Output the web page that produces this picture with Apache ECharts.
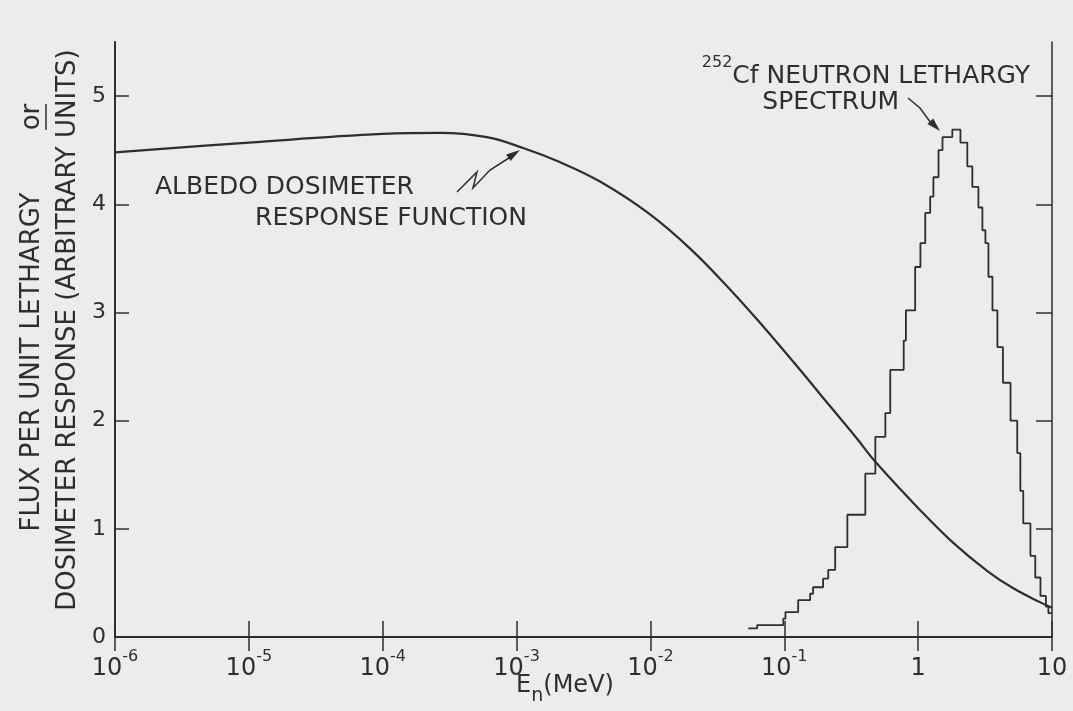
<!DOCTYPE html>
<html>
<head>
<meta charset="utf-8">
<script src="https://cdn.jsdelivr.net/npm/echarts@6/dist/echarts.min.js"></script>
<style>
html, body { margin: 0; padding: 0; background: #ececec; }
#chart { width: 1073px; height: 711px; }
</style>
</head>
<body>
<div id="chart"></div>
<script>
// albedo dosimeter response function (En in MeV)
var responseE = [1e-6, 1e-5, 1e-4, 2.7e-4, 6.0e-4, 1.12e-3, 2.1e-3, 4.2e-3, 9.6e-3, 0.0198, 0.0395, 0.0696, 0.125, 0.221, 0.351, 0.479, 1.04, 1.83, 3.29, 5.14, 8.19, 10];
var responseV = [4.48, 4.57, 4.65, 4.66, 4.62, 4.52, 4.39, 4.21, 3.92, 3.59, 3.21, 2.87, 2.50, 2.13, 1.83, 1.62, 1.17, 0.87, 0.61, 0.45, 0.32, 0.27];

// 252Cf lethargy spectrum : left edge of each bin (MeV) and its height
var spectrumE = [0.0538, 0.0628, 0.0984, 0.102, 0.127, 0.156, 0.164, 0.195, 0.213, 0.240, 0.296, 0.403, 0.479, 0.569, 0.619, 0.78, 0.81, 0.95, 1.04, 1.13, 1.23, 1.30, 1.42, 1.52, 1.80, 2.07, 2.33, 2.54, 2.82, 3.02, 3.18, 3.35, 3.59, 3.91, 4.3, 4.9, 5.5, 5.8, 6.1, 6.9, 7.5, 8.2, 9.0, 9.4, 10];
var spectrumV = [0.08, 0.11, 0.17, 0.23, 0.34, 0.40, 0.46, 0.54, 0.62, 0.83, 1.13, 1.51, 1.85, 2.07, 2.47, 2.74, 3.02, 3.42, 3.64, 3.92, 4.07, 4.25, 4.50, 4.62, 4.69, 4.57, 4.35, 4.16, 3.97, 3.76, 3.64, 3.33, 3.02, 2.68, 2.35, 2.00, 1.70, 1.35, 1.05, 0.75, 0.55, 0.38, 0.28, 0.22, 0.22];

// axis ticks
var xTickValues = [1e-6, 1e-5, 1e-4, 1e-3, 1e-2, 1e-1, 1, 10];
var xTickBase = ['10', '10', '10', '10', '10', '10', '1', '10'];
var xTickSup = ['-6', '-5', '-4', '-3', '-2', '-1', '', ''];
var yTickValues = [0, 1, 2, 3, 4, 5];

var ink = '#2e2e2e';
var font = 'DejaVu Sans';

function pairs(xs, ys) {
    var out = [];
    for (var i = 0; i < xs.length; i++) out.push([xs[i], ys[i]]);
    return out;
}

function xLabel(value) {
    for (var i = 0; i < xTickValues.length; i++) {
        if (Math.abs(Math.log10(value) - Math.log10(xTickValues[i])) < 1e-6) {
            return xTickSup[i] ? '{b|' + xTickBase[i] + '}{s|' + xTickSup[i] + '}' : '{b|' + xTickBase[i] + '}';
        }
    }
    return '';
}

// rotated text of the y axis title
function yText(text, x, y, size) {
    return {type: 'text', x: x, y: y, rotation: Math.PI / 2,
        style: {text: text, fontFamily: font, fontSize: size, fill: ink, align: 'center', verticalAlign: 'middle'}};
}

var chart = echarts.init(document.getElementById('chart'), null, {renderer: 'canvas'});

var option = {
    backgroundColor: '#ececec',
    animation: false,
    grid: {left: 115, right: 21, top: 42, bottom: 74},
    xAxis: [{
        type: 'log',
        logBase: 10,
        min: 1e-6,
        max: 10,
        position: 'bottom',
        axisLine: {lineStyle: {color: ink, width: 2}},
        axisTick: {inside: true, length: 16, customValues: xTickValues, lineStyle: {color: ink, width: 1.5}},
        axisLabel: {
            customValues: xTickValues,
            margin: 12,
            formatter: xLabel,
            rich: {
                b: {fontFamily: font, fontSize: 24, color: ink, verticalAlign: 'bottom', lineHeight: 32},
                s: {fontFamily: font, fontSize: 16, color: ink, verticalAlign: 'top', lineHeight: 32}
            }
        },
        splitLine: {show: false},
        minorTick: {show: false}
    }, {
        type: 'log',
        logBase: 10,
        min: 1e-6,
        max: 10,
        position: 'top',
        axisLine: {lineStyle: {color: ink, width: 1.5}},
        axisTick: {inside: true, length: 14, customValues: xTickValues, lineStyle: {color: ink, width: 1.5}},
        axisLabel: {show: false},
        splitLine: {show: false}
    }],
    yAxis: [{
        type: 'value',
        min: 0,
        max: 5.5,
        position: 'left',
        axisLine: {show: true, lineStyle: {color: ink, width: 2}},
        axisTick: {show: true, inside: true, length: 14, customValues: yTickValues, lineStyle: {color: ink, width: 1.5}},
        axisLabel: {customValues: yTickValues, margin: 9, fontFamily: font, fontSize: 22, color: ink},
        splitLine: {show: false}
    }, {
        type: 'value',
        min: 0,
        max: 5.5,
        position: 'right',
        axisLine: {show: true, lineStyle: {color: ink, width: 1.5}},
        axisTick: {show: true, inside: true, length: 16, customValues: yTickValues, lineStyle: {color: ink, width: 1.5}},
        axisLabel: {show: false},
        splitLine: {show: false}
    }],
    series: [{
        name: 'response',
        type: 'line',
        data: pairs(responseE, responseV),
        smooth: 0.4,
        showSymbol: false,
        lineStyle: {color: ink, width: 2.2}
    }, {
        name: 'spectrum',
        type: 'line',
        data: pairs(spectrumE, spectrumV),
        step: 'end',
        showSymbol: false,
        lineStyle: {color: ink, width: 1.8}
    }],
    graphic: [
        // y axis title
        yText('FLUX PER UNIT LETHARGY', 32, 362, 26),
        yText('or', 32, 117, 26),
        {type: 'line', shape: {x1: 46, y1: 104, x2: 46, y2: 130}, style: {stroke: ink, lineWidth: 1.5}},
        yText('DOSIMETER RESPONSE (ARBITRARY UNITS)', 68, 330, 26),
        // x axis title
        {type: 'text', x: 565, y: 690,
            style: {text: '{b|E}{n|n}{b|(MeV)}', fontFamily: font, align: 'center', verticalAlign: 'middle',
                rich: {
                    b: {fontFamily: font, fontSize: 24, fill: ink, verticalAlign: 'top', lineHeight: 32},
                    n: {fontFamily: font, fontSize: 19, fill: ink, verticalAlign: 'bottom', lineHeight: 32}
                }}},
        // albedo annotation
        {type: 'text', x: 155, y: 187,
            style: {text: 'ALBEDO DOSIMETER', fontFamily: font, fontSize: 25, fill: ink, align: 'left', verticalAlign: 'middle'}},
        {type: 'text', x: 527, y: 218,
            style: {text: 'RESPONSE FUNCTION', fontFamily: font, fontSize: 25, fill: ink, align: 'right', verticalAlign: 'middle'}},
        {type: 'polyline', shape: {points: [[457, 192], [477, 172], [473, 188], [490, 170], [512, 156]]},
            style: {stroke: ink, lineWidth: 1.5, fill: null}},
        {type: 'polygon', shape: {points: [[520, 150], [510.6, 161.0], [506.2, 154.4]]}, style: {fill: ink}},
        // 252Cf annotation
        {type: 'text', x: 1030, y: 72,
            style: {text: '{s|252}{b|Cf NEUTRON LETHARGY}', fontFamily: font, align: 'right', verticalAlign: 'middle',
                rich: {
                    s: {fontFamily: font, fontSize: 16, fill: ink, verticalAlign: 'top', lineHeight: 34},
                    b: {fontFamily: font, fontSize: 25, fill: ink, verticalAlign: 'bottom', lineHeight: 34}
                }}},
        {type: 'text', x: 899, y: 102,
            style: {text: 'SPECTRUM', fontFamily: font, fontSize: 25, fill: ink, align: 'right', verticalAlign: 'middle'}},
        {type: 'polyline', shape: {points: [[908, 98], [920, 108], [931, 123]]},
            style: {stroke: ink, lineWidth: 1.5, fill: null}},
        {type: 'polygon', shape: {points: [[940, 131], [933.2, 118.5], [927.4, 124.1]]}, style: {fill: ink}}
    ]
};

chart.setOption(option);
</script>
</body>
</html>
